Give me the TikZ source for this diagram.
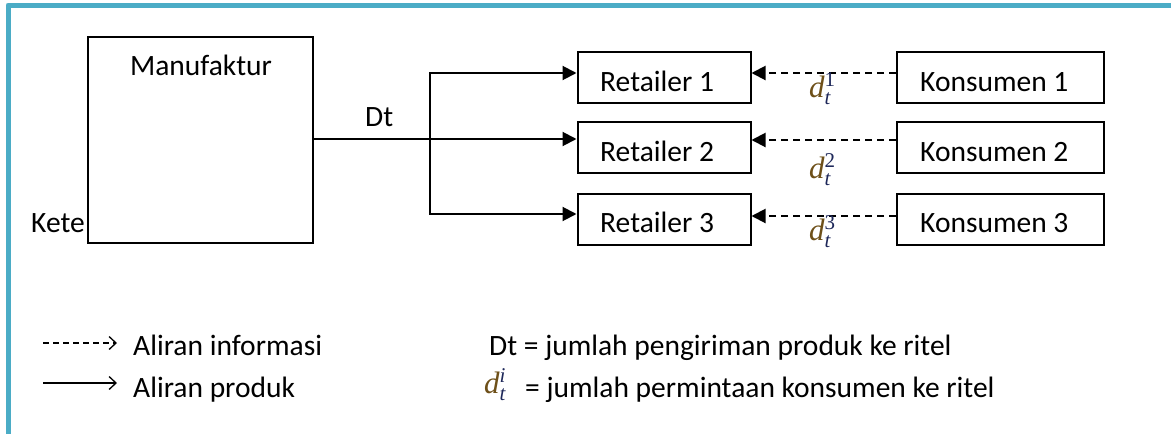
\documentclass[tikz,border=0pt]{standalone}
\usepackage{fontspec}
\setmainfont{Carlito}
\newfontfamily\mfont{Liberation Serif}
\usetikzlibrary{arrows.meta}
\definecolor{framecol}{RGB}{75,172,198}
\definecolor{dcol}{RGB}{110,80,25}
\definecolor{subcol}{RGB}{30,40,90}
\newcommand{\dlab}[1]{{\mfont\fontsize{31}{31}\selectfont\textcolor{dcol}{\itshape d}\makebox[0pt][l]{\raisebox{11pt}{\fontsize{21}{21}\selectfont\color{subcol}#1}}\raisebox{-7pt}{\fontsize{21}{21}\selectfont\itshape\color{subcol}t}}}
\begin{document}
\begin{tikzpicture}[x=1pt,y=-1pt,
  every node/.style={font=\fontsize{29.5}{35}\selectfont, inner sep=0pt},
  box/.style={draw, line width=2pt, rectangle},
  txt/.style={anchor=base west},
  solidarrow/.style={line width=2pt, -{Triangle[length=14pt,width=14pt]}},
  dasharrow/.style={line width=2pt, dash pattern=on 7pt off 5pt, -{Triangle[length=14pt,width=14pt]}},
  legdash/.style={line width=1.3pt, dash pattern=on 6pt off 4pt, -{Straight Barb[length=7pt,width=13pt,line width=1.3pt]}},
  legsolid/.style={line width=1.3pt, -{Straight Barb[length=7pt,width=13pt,line width=1.3pt]}}
]
\useasboundingbox (0,0) rectangle (1171,434);
\fill[white] (0,0) rectangle (1171,434);
% frame
\draw[framecol, line width=5pt, line join=round] (8,434) -- (8,5) -- (1171,5);

% boxes
\node[box, minimum width=225pt, minimum height=206pt] (m) at (200.5,140) {};
\node[anchor=base] (mt) at (201,75) {Manufaktur};
\node[txt] (kete) at (31,232) {Kete};

\node[box, minimum width=173pt, minimum height=51pt] (r1) at (664,77.5) {};
\node[box, minimum width=173pt, minimum height=51pt] (r2) at (664,147.5) {};
\node[box, minimum width=173pt, minimum height=51pt] (r3) at (664,219.5) {};
\node[txt] (r1t) at (600,91) {Retailer 1};
\node[txt] (r2t) at (600,161) {Retailer 2};
\node[txt] (r3t) at (600,232) {Retailer 3};

\node[box, minimum width=207pt, minimum height=51pt] (k1) at (1000.5,77.5) {};
\node[box, minimum width=207pt, minimum height=51pt] (k2) at (1000.5,147.5) {};
\node[box, minimum width=207pt, minimum height=51pt] (k3) at (1000.5,219.5) {};
\node[txt] (k1t) at (920,91) {Konsumen 1};
\node[txt] (k2t) at (920,161) {Konsumen 2};
\node[txt] (k3t) at (920,232) {Konsumen 3};

% product flow
\coordinate (split) at (430,139);
\draw[solidarrow] (m.east |- split) -- (r2.west |- split);
\draw[solidarrow] (split) |- ([yshift=4.5pt]r1.west);
\draw[solidarrow] (split) |- ([yshift=5.5pt]r3.west);
\node[txt] (dt) at (365,126) {Dt};

% information flow
\draw[dasharrow] ([yshift=4.5pt]k1.west) -- ([yshift=4.5pt]r1.east);
\draw[dasharrow] ([yshift=7.5pt]k2.west) -- ([yshift=7.5pt]r2.east);
\draw[dasharrow] ([yshift=3.5pt]k3.west) -- ([yshift=3.5pt]r3.east);
\node[txt] (d1) at (809,97) {\dlab{1}};
\node[txt] (d2) at (809,178) {\dlab{2}};
\node[txt] (d3) at (809,240) {\dlab{3}};

% legend
\coordinate (la1) at (43,343);
\coordinate (lb1) at (117,343);
\coordinate (la2) at (43,383);
\coordinate (lb2) at (117,383);
\draw[legdash] (la1) -- (lb1);
\draw[legsolid] (la2) -- (lb2);
\node[txt] (l1) at (133,355) {Aliran informasi};
\node[txt] (l2) at (133,397) {Aliran produk};
\node[txt] (l3) at (489,355) {Dt = jumlah pengiriman produk ke ritel};
\node[txt] (l4s) at (484,393) {\dlab{\itshape i}};
\node[txt] (l4) at (525,397) {= jumlah permintaan konsumen ke ritel};
\end{tikzpicture}
\end{document}
